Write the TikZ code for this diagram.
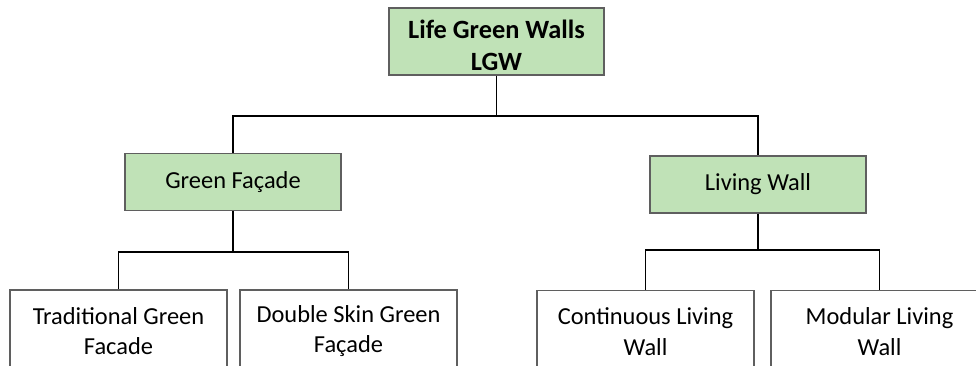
\documentclass[tikz,border=0pt]{standalone}
\usepackage{fontspec}
\setmainfont{Carlito}
\usetikzlibrary{positioning}
\definecolor{boxgreen}{RGB}{192,226,183}
\definecolor{boxline}{RGB}{95,95,95}

\begin{document}
\begin{tikzpicture}[
    box/.style={
        draw=boxline,
        line width=0.7pt,
        align=center,
        inner sep=2pt,
        font=\fontsize{13.9}{17.5}\selectfont
    },
    rootbox/.style={
        box,
        fill=boxgreen,
        minimum width=4.3cm,
        minimum height=1.34cm,
        font=\fontsize{15}{18}\selectfont\bfseries
    },
    groupbox/.style={
        box,
        fill=boxgreen,
        minimum width=4.32cm,
        minimum height=1.14cm
    },
    leafbox/.style={
        box,
        fill=white,
        minimum width=4.34cm,
        minimum height=1.64cm
    },
    link/.style={line width=0.9pt}
]
\useasboundingbox (0,0) rectangle (19.52,7.3);
\clip (0,0) rectangle (19.52,7.3);

\node[rootbox] (lgw) at (9.93,6.47) {\rule{0pt}{0.53cm}Life Green Walls\\LGW};

\node[groupbox] (facade) at (4.66,3.66) {Green Façade};
\node[groupbox] (living) at (15.16,3.61) {Living Wall};

\node[leafbox] (traditional) at (2.37,0.68) {Traditional Green\\Facade};
\node[leafbox] (doubleskin) at (6.97,0.68) {Double Skin Green\\Façade};
\node[leafbox] (continuous) at (12.91,0.67) {Continuous Living\\Wall};
\node[leafbox] (modular) at (17.59,0.67) {Modular Living\\Wall};

\coordinate (topsplit) at (9.93,4.98);
\coordinate (facadesplit) at (4.66,2.26);
\coordinate (livingsplit) at (15.16,2.30);

\draw[link] (lgw) -- (topsplit);
\draw[link] (topsplit) -| (facade);
\draw[link] (topsplit) -| (living);

\draw[link] (facade) -- (facadesplit);
\draw[link] (facadesplit) -| (traditional);
\draw[link] (facadesplit) -| (doubleskin);

\draw[link] (living) -- (livingsplit);
\draw[link] (livingsplit) -| (continuous);
\draw[link] (livingsplit) -| (modular);

\end{tikzpicture}
\end{document}
